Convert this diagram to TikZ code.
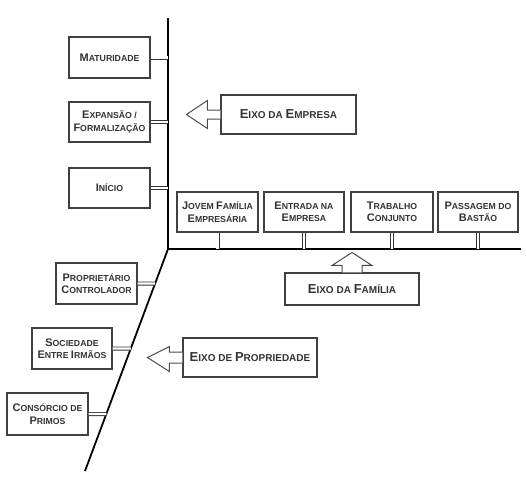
\documentclass[tikz,border=0pt]{standalone}
\usepackage{fontspec}
\setmainfont{Liberation Sans}
\newcommand\K[1]{{\fontsize{11}{11}\selectfont #1}}
\newcommand\KK[1]{{\fontsize{13}{13}\selectfont #1}}
\begin{document}
\begin{tikzpicture}[x=1pt,y=-1pt,
  box/.style={draw=black!75,line width=1.1pt,fill=white,rectangle,inner sep=0pt,align=center,
    font=\bfseries\fontsize{8.7}{12.5}\selectfont,text=black!80},
  eixo/.style={box,font=\bfseries\fontsize{10}{12}\selectfont},
  axis/.style={line width=1.8pt,black},
  dbl/.style={draw=black!80,double=white,double distance=2.2pt,line width=0.9pt},
  arr/.style={draw=black!70,line width=1pt,fill=white,line join=miter}]
\useasboundingbox (0,0) rectangle (527,480);
% axes
\coordinate (O) at (168,249);
\coordinate (T) at (168,18);
\coordinate (R) at (521,249);
\coordinate (D) at (85,471);
\draw[axis] (T) -- (O) -- (R);
\draw[axis] (O) -- (D);
% empresa axis boxes
\node[box,minimum width=81,minimum height=41] (mat) at (109.5,57.5) {\K{M}ATURIDADE};
\node[box,minimum width=81,minimum height=40] (exp) at (109.5,122) {\K{E}XPANSÃO /\\\K{F}ORMALIZAÇÃO};
\node[box,minimum width=81,minimum height=40] (ini) at (109.5,188) {\K{I}NÍCIO};
\draw[dbl] (mat.east) -- (mat.east -| O);
\draw[dbl] (exp.east) -- (exp.east -| O);
\draw[dbl] (ini.east) -- (ini.east -| O);
% familia axis boxes
\node[box,minimum width=81,minimum height=40] (jov) at (217.5,212) {\K{J}OVEM \K{F}AMÍLIA\\\K{E}MPRESÁRIA};
\node[box,minimum width=80,minimum height=40] (ent) at (304,212) {\K{E}NTRADA NA\\\K{E}MPRESA};
\node[box,minimum width=82,minimum height=40] (tra) at (392,212) {\K{T}RABALHO\\\K{C}ONJUNTO};
\node[box,minimum width=80,minimum height=40] (pas) at (478,212) {\K{P}ASSAGEM DO\\\K{B}ASTÃO};
\draw[dbl] (jov.south) -- (jov.south |- O);
\draw[dbl] (ent.south) -- (ent.south |- O);
\draw[dbl] (tra.south) -- (tra.south |- O);
\draw[dbl] (pas.south) -- (pas.south |- O);
% propriedade axis boxes
\node[box,minimum width=81,minimum height=41] (pro) at (96.5,283.5) {\K{P}ROPRIETÁRIO\\\K{C}ONTROLADOR};
\node[box,minimum width=80,minimum height=41] (soc) at (72,348.5) {\K{S}OCIEDADE\\\K{E}NTRE \K{I}RMÃOS};
\node[box,minimum width=81,minimum height=42] (con) at (47.5,414) {\K{C}ONSÓRCIO DE\\\K{P}RIMOS};
\path (pro.east) ++(60,0) coordinate (proF);
\path (soc.east) ++(60,0) coordinate (socF);
\path (con.east) ++(60,0) coordinate (conF);
\draw[dbl] (pro.east) -- (intersection of O--D and pro.east--proF);
\draw[dbl] (soc.east) -- (intersection of O--D and soc.east--socF);
\draw[dbl] (con.east) -- (intersection of O--D and con.east--conF);
% eixo labels
\node[eixo,minimum width=135,minimum height=39] (ee) at (288.5,114.5) {\KK{E}IXO DA \KK{E}MPRESA};
\node[eixo,minimum width=134,minimum height=32] (ef) at (352,289) {\KK{E}IXO DA \KK{F}AMÍLIA};
\node[eixo,minimum width=134,minimum height=39] (ep) at (250,357.5) {\KK{E}IXO DE \KK{P}ROPRIEDADE};
% block arrows
\draw[arr] (ee.west) ++(0,-4.5) -- ++(-13,0) -- ++(0,-9.5) -- ++(-21,14) -- ++(21,14) -- ++(0,-9.5) -- ++(13,0);
\draw[arr] (ef.north) ++(-10,0) -- ++(0,-7) -- ++(-10,0) -- ++(20,-13) -- ++(20,13) -- ++(-10,0) -- ++(0,7);
\draw[arr] (ep.west) ++(0,-5.5) -- ++(-13,0) -- ++(0,-5.5) -- ++(-22,11) -- ++(22,14) -- ++(0,-8.5) -- ++(13,0);
\end{tikzpicture}
\end{document}
